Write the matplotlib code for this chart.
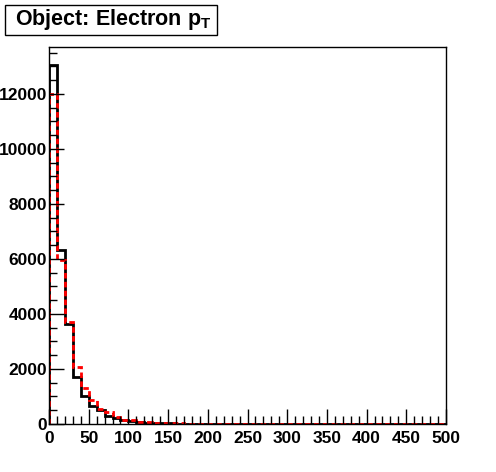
import numpy as np
import matplotlib.pyplot as plt
from matplotlib.patches import Rectangle

plt.rcParams["font.family"] = ["Liberation Sans", "DejaVu Sans"]
plt.rcParams["mathtext.fontset"] = "custom"
plt.rcParams["mathtext.rm"] = "Liberation Sans:bold"
plt.rcParams["mathtext.it"] = "Liberation Sans:bold"
plt.rcParams["mathtext.bf"] = "Liberation Sans:bold"

# bin edges: 50 bins of 10 GeV
edges = np.arange(0, 510, 10)

# black histogram (solid)
black = [13050, 6330, 3640, 1720, 1000, 670, 510, 300, 210, 150,
         100, 60, 45, 30, 25, 20, 15, 12, 10, 8,
         6, 5, 4, 3, 3, 2, 2, 2, 1, 1,
         1, 1, 1, 0, 0, 0, 0, 0, 0, 0,
         0, 0, 0, 0, 0, 0, 0, 0, 0, 0]

# red histogram (dashed)
red = [12000, 5950, 3700, 2060, 1320, 880, 550, 420, 250, 160,
       130, 80, 60, 45, 35, 25, 20, 15, 12, 10,
       8, 6, 5, 4, 3, 3, 2, 2, 2, 1,
       1, 1, 1, 1, 0, 0, 0, 0, 0, 0,
       0, 0, 0, 0, 0, 0, 0, 0, 0, 0]

fig = plt.figure(figsize=(4.96, 4.72), dpi=100)
ax = fig.add_axes([49 / 496, 48 / 472, 397 / 496, 377 / 472])

ax.stairs(black, edges, color="black", lw=2)
ax.stairs(red, edges, color="red", lw=2, linestyle=(0, (2, 1.2)))

ax.set_xlim(0, 500)
ax.set_ylim(0, 13700)
ax.set_xticks(np.arange(0, 501, 50))
ax.set_xticks(np.arange(0, 501, 10), minor=True)
ax.set_yticks(np.arange(0, 13000, 2000))
ax.set_yticks(np.arange(0, 13700, 500), minor=True)

ax.tick_params(which="both", direction="in", width=1, labelsize=12.5)
ax.tick_params(which="major", length=11)
ax.tick_params(which="minor", length=6)
ax.tick_params(axis="x", which="major", pad=5)
ax.tick_params(axis="y", which="major", pad=1.5)
for lab in ax.get_xticklabels() + ax.get_yticklabels():
    lab.set_fontweight("bold")
for s in ax.spines.values():
    s.set_linewidth(1)

# title box
fig.patches.append(Rectangle((5 / 496, 1 - 35 / 472), 212 / 496, 30 / 472,
                             transform=fig.transFigure, fill=False,
                             edgecolor="black", lw=1))
fig.text(113 / 496, 1 - 19 / 472, r"Object: Electron p$_\mathrm{T}$",
         ha="center", va="center", fontsize=15.5, fontweight="bold")

fig.savefig("out.png", dpi=100)
